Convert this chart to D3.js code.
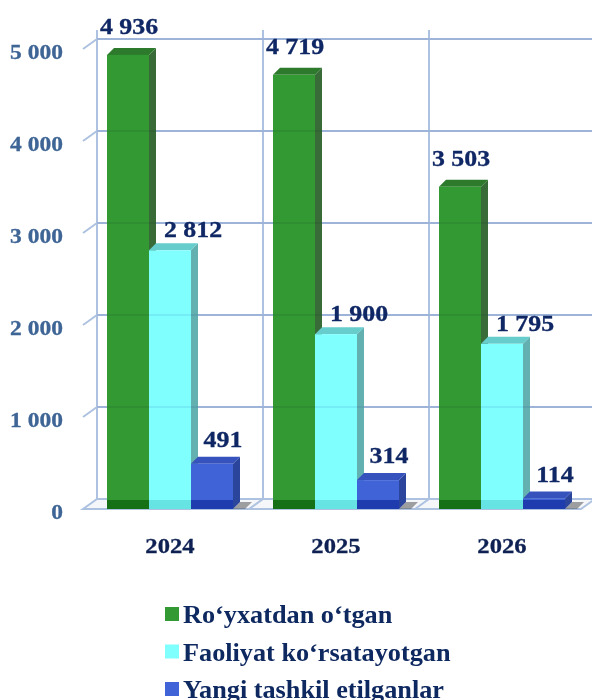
<!DOCTYPE html>
<html>
<head>
<meta charset="utf-8">
<script src="https://cdn.jsdelivr.net/npm/d3@7"></script>
<style>
  body { margin: 0; background: #fff; }
  svg { display: block; }
</style>
</head>
<body>
<svg width="592" height="700"></svg>
<script>
// data
var years = ["2024", "2025", "2026"];
var seriesNames = ["Ro\u2018yxatdan o\u2018tgan", "Faoliyat ko\u2018rsatayotgan", "Yangi tashkil etilganlar"];
var registered = [4936, 4719, 3503];
var active = [2812, 1900, 1795];
var newlyMade = [491, 314, 114];
var yTicks = [0, 1000, 2000, 3000, 4000, 5000];

var seriesValues = [registered, active, newlyMade];
var fronts = ["#339933", "#80ffff", "#4063d8"],
    sides = ["#386b38", "#63b0b0", "#2b459c"],
    tops = ["#2d7a2d", "#66cccc", "#3552bd"],
    bottoms = ["#167016", "#66e3e3", "#1f3cae"];
// label nudges per series (excel places them a bit off the bar)
var lblDx = [1, 23, 11], lblDy = [-21, -13, -17];

var svg = d3.select("svg");
var fmt = function(v) { return d3.format(",")(v).replace(/,/g, " "); };

var wallDx = 14, wallDy = -10;   // depth of the back wall
var barDx = 7, barDy = -7;       // depth of one bar

var x0 = d3.scaleBand().domain(years).range([97, 595]);
var x1 = d3.scaleBand().domain(d3.range(3)).range([10, 136]);
var y = d3.scaleLinear().domain([0, 5000]).range([509, 49]);

var grid = "#adc2e0";
var g = svg.append("g");

function drawGrid(sel) {
  sel.selectAll(".hgrid").data(yTicks.slice(1)).enter().append("line")
    .attr("x1", x0.range()[0]).attr("x2", 592)
    .attr("y1", function(d) { return y(d) + wallDy; })
    .attr("y2", function(d) { return y(d) + wallDy; })
    .attr("stroke", grid).attr("stroke-width", 2);
}

// back wall grid
drawGrid(g);
g.selectAll(".vgrid").data(years).enter().append("line")
  .attr("x1", function(d) { return x0(d); }).attr("x2", function(d) { return x0(d); })
  .attr("y1", 30).attr("y2", y(0) + wallDy)
  .attr("stroke", grid).attr("stroke-width", 2);
// slanted ticks on the left side
g.selectAll(".ytick").data(yTicks.slice(1)).enter().append("line")
  .attr("x1", x0.range()[0] - wallDx).attr("x2", x0.range()[0])
  .attr("y1", function(d) { return y(d); })
  .attr("y2", function(d) { return y(d) + wallDy; })
  .attr("stroke", grid).attr("stroke-width", 2);

// floor
var fx0 = x0.range()[0] - wallDx, fx1 = x0.range()[1] - wallDx;
g.append("path")
  .attr("d", "M" + fx0 + "," + y(0) + "L" + (fx0 + wallDx) + "," + (y(0) + wallDy) +
             "L" + (fx1 + wallDx) + "," + (y(0) + wallDy) + "L" + fx1 + "," + y(0) + "Z")
  .attr("fill", "#f4f6fa").attr("stroke", grid).attr("stroke-width", 2);
g.selectAll(".fdiv").data(years.slice(1)).enter().append("line")
  .attr("x1", function(d) { return x0(d) - wallDx; }).attr("x2", function(d) { return x0(d); })
  .attr("y1", y(0)).attr("y2", y(0) + wallDy)
  .attr("stroke", grid).attr("stroke-width", 2);

// shadows of the last bar in each group
g.selectAll(".shadow").data(years).enter().append("path")
  .attr("d", function(d) {
    var xr = x0(d) + x1(2) + x1.bandwidth(), yb = y(0);
    return "M" + xr + "," + yb + "L" + (xr + barDx) + "," + (yb + barDy) +
      "L" + (xr + barDx + 12) + "," + (yb + barDy) + "L" + (xr + 12) + "," + yb + "Z";
  })
  .attr("fill", "#555").attr("opacity", 0.55);

// bars
var bars = [];
years.forEach(function(yr, i) {
  seriesValues.forEach(function(vals, s) {
    bars.push({year: yr, s: s, value: vals[i]});
  });
});

var bar = g.selectAll(".bar").data(bars).enter().append("g")
  .attr("transform", function(d) { return "translate(" + (x0(d.year) + x1(d.s)) + ",0)"; });
var bw = x1.bandwidth();

bar.append("path") // side
  .attr("d", function(d) {
    var t = y(d.value), b = y(0);
    return "M" + bw + "," + t + "L" + (bw + barDx) + "," + (t + barDy) +
      "L" + (bw + barDx) + "," + (b + barDy) + "L" + bw + "," + b + "Z";
  })
  .attr("fill", function(d) { return sides[d.s]; });
bar.append("path") // top
  .attr("d", function(d) {
    var t = y(d.value);
    return "M0," + t + "L" + barDx + "," + (t + barDy) + "L" + (bw + barDx) + "," + (t + barDy) +
      "L" + bw + "," + t + "Z";
  })
  .attr("fill", function(d) { return tops[d.s]; });
bar.append("rect") // front
  .attr("x", 0).attr("width", bw)
  .attr("y", function(d) { return y(d.value); })
  .attr("height", function(d) { return y(0) - y(d.value); })
  .attr("fill", function(d) { return fronts[d.s]; });
bar.append("rect") // part standing in the floor
  .attr("x", 0).attr("width", bw)
  .attr("y", function(d) { return Math.max(y(d.value), y(0) + wallDy + 1); })
  .attr("height", function(d) { return y(0) - Math.max(y(d.value), y(0) + wallDy + 1); })
  .attr("fill", function(d) { return bottoms[d.s]; });

// bars are a little see-through: gridlines show faintly across them
var thru = g.append("g").style("mix-blend-mode", "multiply").attr("opacity", 0.3);
drawGrid(thru);

var serif = "'Liberation Serif', 'Times New Roman', serif";
var sx = 1.12;

// value labels (on top of everything)
var labels = svg.append("g");
labels.selectAll(".val").data(bars).enter().append("text")
  .attr("transform", function(d) {
    return "translate(" + (x0(d.year) + x1(d.s) + bw / 2 + lblDx[d.s]) + "," +
      (y(d.value) + lblDy[d.s]) + ") scale(1.15,1)";
  })
  .attr("text-anchor", "middle")
  .style("font-family", serif).style("font-weight", "bold").style("font-size", "22.5px")
  .attr("fill", "#0f2764").attr("stroke", "#0f2764").attr("stroke-width", 0.3)
  .text(function(d) { return fmt(d.value); });

// y axis labels
labels.selectAll(".ylab").data(yTicks).enter().append("text")
  .attr("transform", function(d) { return "translate(63," + (y(d) + 3) + ") scale(" + sx + ",1)"; })
  .attr("dy", "0.35em")
  .attr("text-anchor", "end")
  .style("font-family", serif).style("font-weight", "bold").style("font-size", "21px")
  .attr("fill", "#3e6595").attr("stroke", "#3e6595").attr("stroke-width", 0.3)
  .text(fmt);

// x axis labels
labels.selectAll(".xlab").data(years).enter().append("text")
  .attr("transform", function(d) { return "translate(" + (x0(d) + x1(1) + bw / 2) + ",553) scale(" + sx + ",1)"; })
  .attr("text-anchor", "middle")
  .style("font-family", serif).style("font-weight", "bold").style("font-size", "22px")
  .attr("fill", "#0e2152").attr("stroke", "#0e2152").attr("stroke-width", 0.3)
  .text(function(d) { return d; });

// legend
var legend = labels.selectAll(".legend").data(seriesNames).enter().append("g")
  .attr("transform", function(d, i) { return "translate(165," + (614 + i * 37.5) + ")"; });
legend.append("rect")
  .attr("x", 0).attr("y", -7).attr("width", 14).attr("height", 14)
  .attr("fill", function(d, i) { return fronts[i]; });
legend.append("text")
  .attr("transform", "translate(18,9) scale(1.05,1)")
  .style("font-family", serif).style("font-weight", "bold").style("font-size", "25px")
  .attr("fill", "#0e2860")
  .text(function(d) { return d; });
</script>
</body>
</html>
